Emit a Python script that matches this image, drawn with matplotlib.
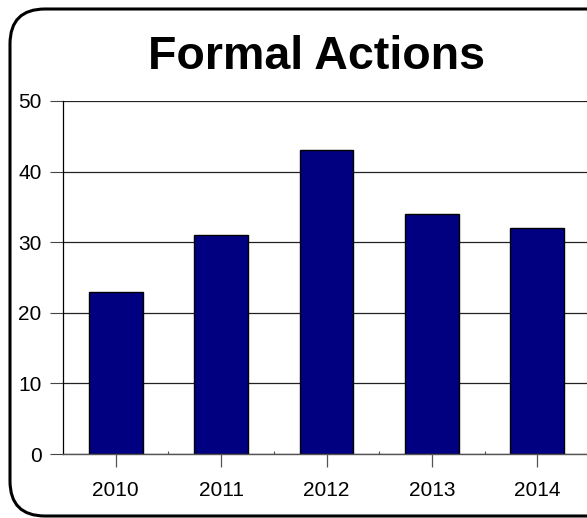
import numpy as np
import matplotlib.pyplot as plt
from matplotlib.patches import FancyBboxPatch

# datos del gráfico
anios = ['2010', '2011', '2012', '2013', '2014']
acciones = [23, 31, 43, 34, 32]
marcas_y = [0, 10, 20, 30, 40, 50]

plt.rcParams['font.family'] = ['Liberation Sans', 'DejaVu Sans']

W, H = 587, 518
fig = plt.figure(figsize=(W / 100, H / 100), dpi=100)

# marco redondeado, en coordenadas de píxel
fondo = fig.add_axes([0, 0, 1, 1])
fondo.set_xlim(0, W)
fondo.set_ylim(H, 0)
fondo.axis('off')
marco = FancyBboxPatch((10, 9), 620, 507, boxstyle='round,pad=0,rounding_size=35',
                       facecolor='white', edgecolor='black', linewidth=2.2)
fondo.add_patch(marco)
fondo.text(316, 57, 'Formal Actions', ha='center', va='center',
           fontsize=33.5, fontweight='bold')

# gráfico de barras
x = np.arange(len(anios))
ax = fig.add_axes([63 / W, 64 / H, 527 / W, 353 / H])
ax.set_facecolor('none')
ax.bar(x, acciones, width=0.51, color='#000080', edgecolor='black', linewidth=1, zorder=3)

ax.set_xlim(-0.5, len(anios) - 0.5)
ax.set_ylim(0, 50)
ax.set_yticks(marcas_y)
ax.set_xticks(x)
ax.set_xticklabels(anios)
ax.set_xticks(x[:-1] + 0.5, minor=True)
ax.yaxis.grid(True, color='#222222', linewidth=0.9, zorder=0)

ax.tick_params(axis='y', length=9.5, width=0.8, color='#444444', pad=6, labelsize=15)
ax.tick_params(axis='x', which='major', length=9.5, width=0.9, color='#555555',
               pad=10, labelsize=15)
ax.tick_params(axis='x', which='minor', direction='in', length=2, width=0.8, color='#555555')

for lado in ['top', 'right']:
    ax.spines[lado].set_visible(False)
ax.spines['left'].set_linewidth(0.9)
ax.spines['bottom'].set_color('#555555')
ax.spines['bottom'].set_linewidth(1)
ax.spines['bottom'].set_zorder(4)

fig.savefig('out.png', dpi=100)
